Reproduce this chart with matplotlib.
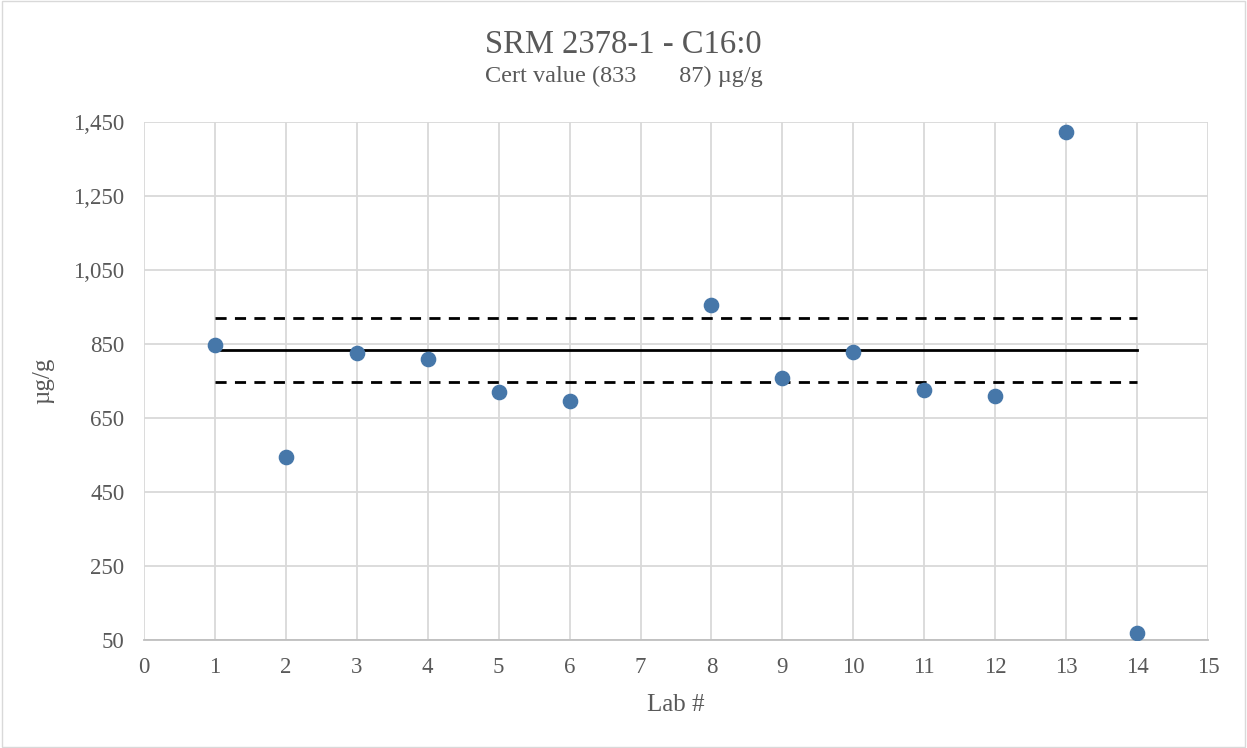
import matplotlib.pyplot as plt
from matplotlib.patches import Rectangle

labs = [1, 2, 3, 4, 5, 6, 8, 9, 10, 11, 12, 13, 14]
values = [848, 545, 826, 810, 720, 696, 955, 758, 828, 726, 709, 1423, 69]

cert = 833
unc = 87
line_x = [1, 14]

plt.rcParams['font.family'] = ['Liberation Serif', 'DejaVu Serif']
txt = '#595959'
grid = '#d9d9d9'

fig = plt.figure(figsize=(12.47, 7.48), dpi=100)
ax = fig.add_axes([144 / 1247, 1 - 640 / 748, (1208 - 144) / 1247, (640 - 122) / 748])

# certified value and +/- uncertainty band
ax.plot(line_x, [cert, cert], color='black', lw=2, zorder=3)
ax.plot(line_x, [cert + unc, cert + unc], color='black', lw=2, ls=(0, (4, 3)), zorder=3)
ax.plot(line_x, [cert - unc, cert - unc], color='black', lw=2, ls=(0, (4, 3)), zorder=3)

ax.scatter(labs, values, s=105, color='#4677a9', zorder=4)

ax.set_xlim(0, 15)
ax.set_ylim(50, 1450)
ax.set_xticks(range(0, 16))
ax.set_yticks(range(50, 1451, 200))
ax.set_yticklabels(['{:,}'.format(v) for v in range(50, 1451, 200)])
ax.grid(True, color=grid, lw=1.3)
ax.set_axisbelow(True)
for s in ['top', 'right', 'left']:
    ax.spines[s].set_visible(False)
ax.spines['bottom'].set_color('#bfbfbf')
ax.spines['bottom'].set_linewidth(1.3)
ax.tick_params(length=0, labelsize=16.5, colors=txt)
ax.tick_params(axis='x', pad=12)
ax.tick_params(axis='y', pad=14)

ax.set_xlabel('Lab #', fontsize=18, color=txt, labelpad=12)
ax.set_ylabel('µg/g', fontsize=18, color=txt, labelpad=14)

fig.text(0.5, 1 - 45 / 748, 'SRM 2378-1 - C16:0', ha='center', va='center', fontsize=23.5, color=txt)
fig.text(0.5, 1 - 76 / 748, 'Cert value (833       87) µg/g', ha='center', va='center', fontsize=17.5, color=txt)

fig.patches.append(Rectangle((0.002, 0.002), 0.996, 0.996, transform=fig.transFigure,
                             fill=False, edgecolor='#d9d9d9', lw=1))

fig.savefig('out.png', dpi=100)
